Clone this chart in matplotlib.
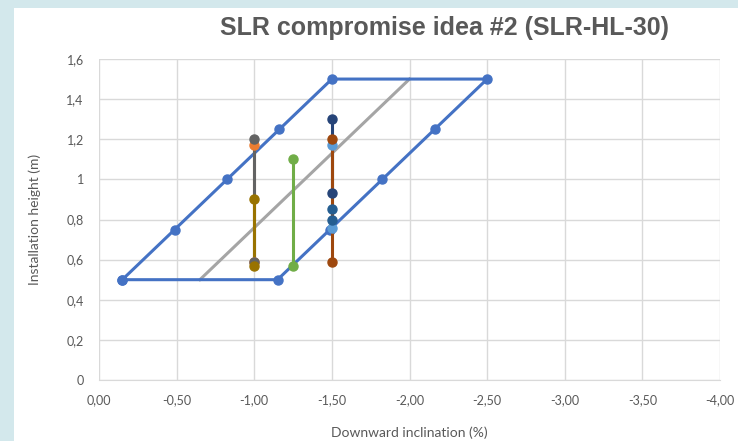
import matplotlib.pyplot as plt
from matplotlib.patches import Rectangle
from matplotlib.ticker import FuncFormatter

# Envelope of allowed installations (blue parallelogram)
env_x = [-0.15, -0.4875, -0.825, -1.1625, -1.5, -2.5, -2.1625, -1.825, -1.4875, -1.15, -0.15]
env_y = [0.5, 0.75, 1.0, 1.25, 1.5, 1.5, 1.25, 1.0, 0.75, 0.5, 0.5]

# Centre line (gray, no markers)
mid_x = [-0.65, -2.0]
mid_y = [0.5, 1.5]

# Vertical ranges of individual products: (x, y_top, y_bottom, colour)
vert_x = [-1.0, -1.0, -1.0, -1.25, -1.5, -1.5, -1.5, -1.5]
vert_top = [1.17, 1.2, 0.9, 1.1, 1.17, 1.3, 0.85, 1.2]
vert_bot = [0.59, 0.59, 0.57, 0.57, 0.76, 0.93, 0.80, 0.59]
vert_col = ['#ED7D31', '#636363', '#997300', '#70AD47',
            '#5B9BD5', '#264478', '#255E91', '#9E480E']

x_ticks = [0, -0.5, -1.0, -1.5, -2.0, -2.5, -3.0, -3.5, -4.0]
y_ticks = [0, 0.2, 0.4, 0.6, 0.8, 1.0, 1.2, 1.4, 1.6]

fig = plt.figure(figsize=(7.38, 4.41), dpi=100, facecolor='#D3E8EC')
bg = Rectangle((14 / 738, 0), 1, 1 - 8 / 441, transform=fig.transFigure,
               facecolor='white', edgecolor='none', zorder=-10)
fig.add_artist(bg)

ax = fig.add_axes([99 / 738, 1 - 380 / 441, 621 / 738, 321 / 441])
ax.set_facecolor('none')

ax.plot(env_x, env_y, color='#4472C4', lw=2.2, marker='o', ms=6.5, zorder=3)
ax.plot(mid_x, mid_y, color='#A5A5A5', lw=2.2, zorder=2)

for x, t, b, c in zip(vert_x, vert_top, vert_bot, vert_col):
    ax.plot([x, x], [t, b], color=c, lw=2.2, zorder=4)
for x, t, b, c in zip(vert_x, vert_top, vert_bot, vert_col):
    ax.plot([x, x], [t, b], color=c, lw=0, marker='o', ms=6.5, zorder=5)

ax.set_xlim(0, -4)
ax.set_ylim(0, 1.6)
ax.set_xticks(x_ticks)
ax.set_yticks(y_ticks)
ax.xaxis.set_major_formatter(FuncFormatter(lambda v, p: ('%.2f' % v).replace('.', ',')))
ax.yaxis.set_major_formatter(FuncFormatter(
    lambda v, p: '0' if v == 0 else ('1' if abs(v - 1) < 1e-9 else ('%.1f' % v).replace('.', ','))))

ax.grid(True, color='#D9D9D9', lw=1)
ax.set_axisbelow(True)
for s in ['top', 'right', 'left']:
    ax.spines[s].set_visible(False)
ax.spines['bottom'].set_color('#D9D9D9')
ax.tick_params(length=0, labelsize=9, labelcolor='#595959')
ax.tick_params(axis='x', pad=10)
ax.tick_params(axis='y', pad=11)
for lab in ax.get_xticklabels() + ax.get_yticklabels():
    lab.set_family('Lato')

ax.set_xlabel('Downward inclination (%)', family='Lato', fontsize=10, color='#595959', labelpad=15)
ax.set_ylabel('Installation height (m)', family='Lato', fontsize=10, color='#595959', labelpad=18)

fig.text(445 / 738, 1 - 28 / 441, 'SLR compromise idea #2 (SLR-HL-30)', ha='center', va='center',
         family='Liberation Sans', fontsize=18, fontweight='bold', color='#595959')

fig.savefig('out.png', dpi=100, facecolor=fig.get_facecolor())
